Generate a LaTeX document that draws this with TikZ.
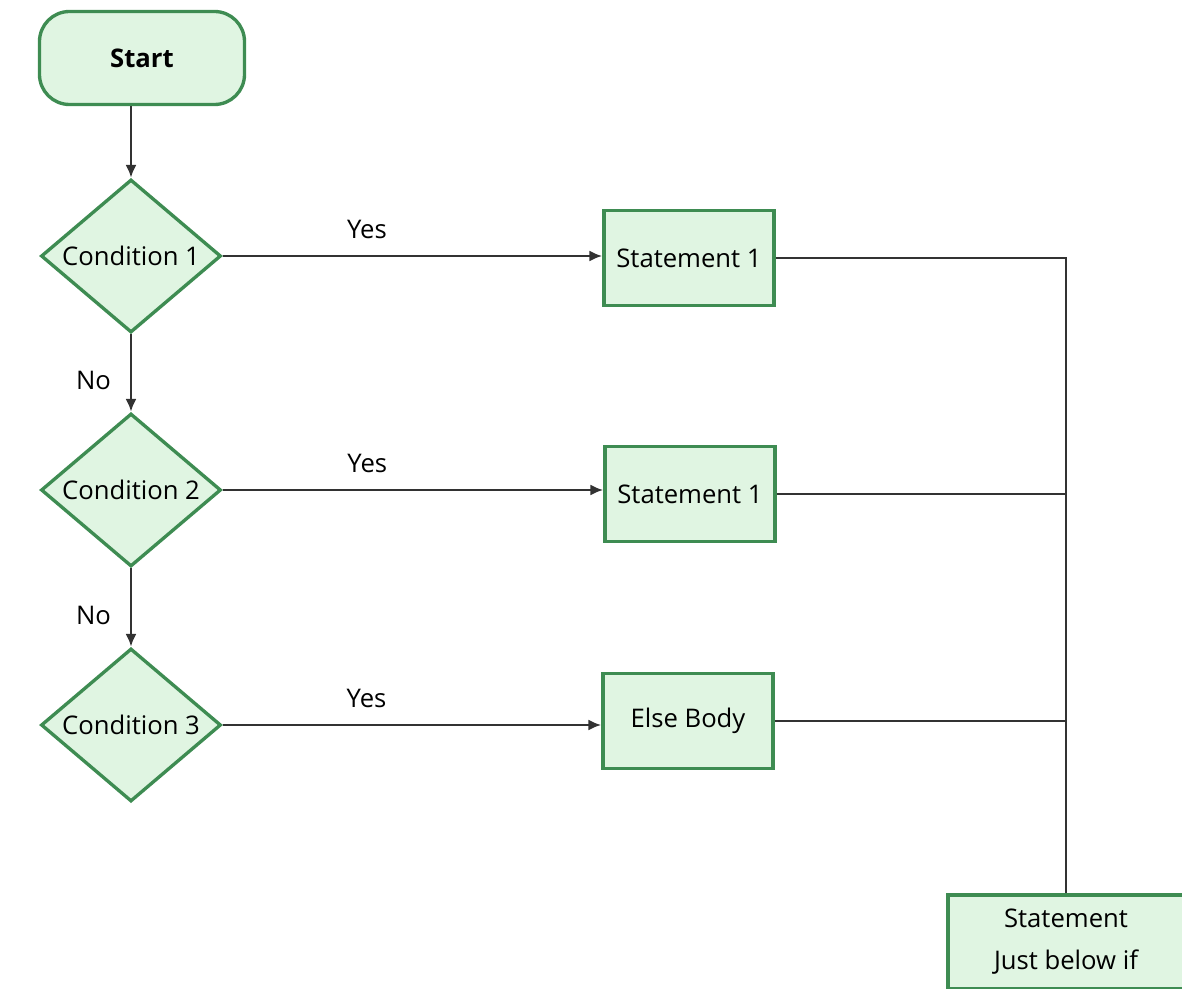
\documentclass[tikz,border=0pt]{standalone}
\usepackage{fontspec}
\setmainfont{Open Sans}
\usepackage{xcolor}
\usetikzlibrary{shapes.geometric,arrows.meta}

\definecolor{verdebordo}{RGB}{62,140,82}
\definecolor{verdefondo}{RGB}{224,245,226}
\definecolor{linea}{RGB}{50,50,50}

\begin{document}
\begin{tikzpicture}[
        font=\fontsize{14.6}{17}\selectfont,
        blocco/.style={draw=verdebordo, fill=verdefondo, line width=1.9pt, inner sep=2pt},
        inizio/.style={blocco, rounded corners=0.6cm, minimum width=4.1cm, minimum height=1.86cm, font=\fontsize{14.6}{17}\selectfont\bfseries},
        rombo/.style={blocco, diamond, inner sep=0pt, aspect=1.18, minimum width=3.6cm, minimum height=3.06cm},
        istruzione/.style={blocco, minimum width=3.4cm, minimum height=1.9cm, align=center},
        freccia/.style={draw=linea, line width=1.35pt, -{Latex[length=2.6mm, width=2.2mm]}},
        collega/.style={draw=linea, line width=1.35pt}
    ]
        \useasboundingbox (0,0) rectangle (23.64,19.76);
        \clip (0,0) rectangle (23.64,19.76);

        % Nodi
        \node[inizio] (start) at (2.84, 18.6) {Start};
        \node[rombo] (cond1) at (2.62, 14.64) {Condition 1};
        \node[rombo] (cond2) at (2.62, 9.96) {Condition 2};
        \node[rombo] (cond3) at (2.62, 5.26) {Condition 3};
        \node[istruzione] (stat1) at (13.78, 14.6) {Statement 1};
        \node[istruzione] (stat2) at (13.8, 9.88) {Statement 1};
        \node[istruzione] (elsebody) at (13.76, 5.34) {Else Body};
        \node[istruzione, minimum width=4.72cm, minimum height=1.88cm, font=\fontsize{14.6}{24}\selectfont] (dopo) at (21.32, 0.92) {Statement\\Just below if};

        % Frecce verticali
        \draw[freccia] (cond1.north |- start.south) -- (cond1.north);
        \draw[freccia] (cond1.south) -- node[pos=0.6, left=2.6mm] {No} (cond2.north);
        \draw[freccia] (cond2.south) -- node[pos=0.6, left=2.6mm] {No} (cond3.north);

        % Rami Yes
        \draw[freccia] (cond1.east) -- node[pos=0.38, above=2mm] {Yes} (cond1.east -| stat1.west);
        \draw[freccia] (cond2.east) -- node[pos=0.38, above=2mm] {Yes} (cond2.east -| stat2.west);
        \draw[freccia] (cond3.east) -- node[pos=0.38, above=2mm] {Yes} (cond3.east -| elsebody.west);

        % Ricongiungimento
        \draw[collega] (stat1.east) -- (stat1.east -| dopo.north) -- (dopo.north);
        \draw[collega] (stat2.east) -- (stat2.east -| dopo.north);
        \draw[collega] (elsebody.east) -- (elsebody.east -| dopo.north);
    \end{tikzpicture}
\end{document}
